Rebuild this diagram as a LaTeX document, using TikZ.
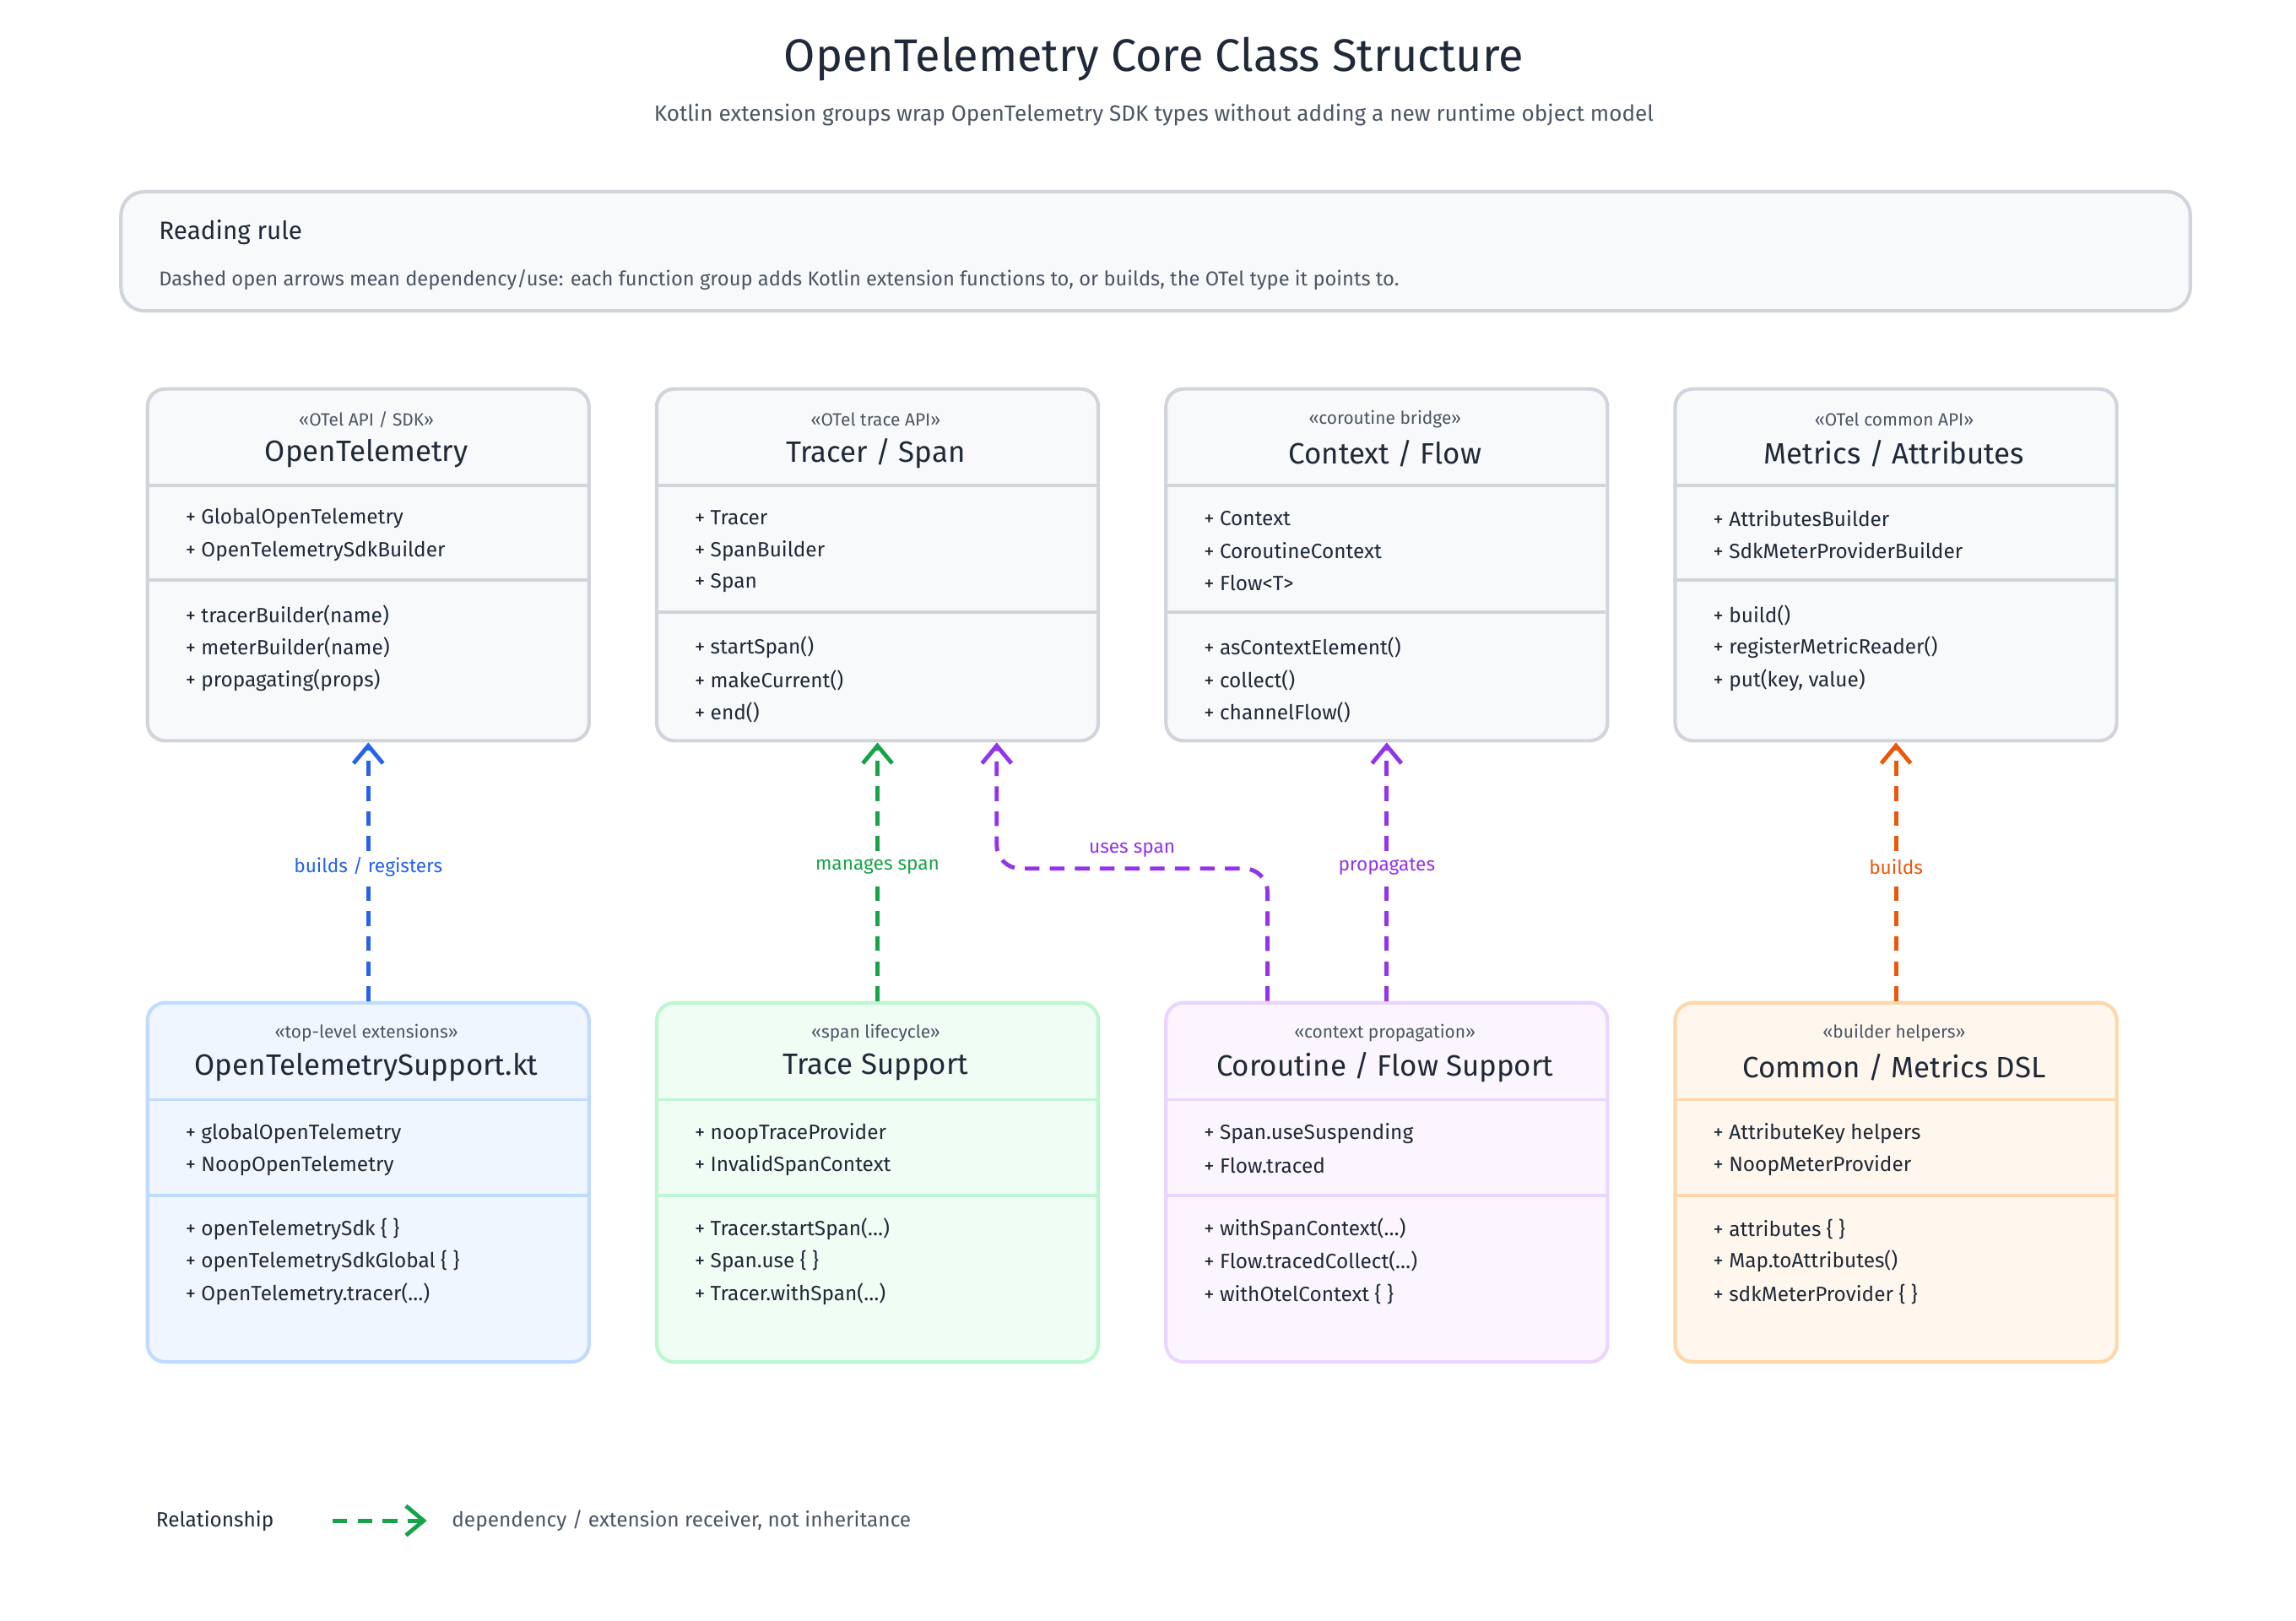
\documentclass[tikz,border=0pt]{standalone}
\usepackage{fontspec}
\setmainfont{Fira Sans}
\usetikzlibrary{arrows.meta,calc}
\definecolor{ink}{HTML}{1F2937}
\definecolor{muted}{HTML}{4B5563}
\definecolor{gborder}{HTML}{D1D5DB}
\definecolor{gfill}{HTML}{F8F9FB}
\definecolor{bfill}{HTML}{EFF6FF}\definecolor{bdraw}{HTML}{BFDBFE}\definecolor{barr}{HTML}{2563EB}
\definecolor{grfill}{HTML}{F0FDF4}\definecolor{grdraw}{HTML}{BBF7D0}\definecolor{grarr}{HTML}{16A34A}
\definecolor{pfill}{HTML}{FAF5FF}\definecolor{pdraw}{HTML}{E9D5FF}\definecolor{parr}{HTML}{9333EA}
\definecolor{ofill}{HTML}{FFF7ED}\definecolor{odraw}{HTML}{FED7AA}\definecolor{oarr}{HTML}{EA580C}
\tikzset{
 box/.style={draw=#1,line width=1.2pt,rounded corners=6pt,anchor=north west,minimum width=150pt,inner sep=0},
 stereo/.style={font=\fontsize{6}{7}\selectfont,text=muted},
 cname/.style={font=\fontsize{10}{12}\selectfont,text=ink},
 item/.style={font=\fontsize{7}{8}\selectfont,text=ink,anchor=west},
 dep/.style={draw=#1,line width=1.4pt,dash pattern=on 5pt off 3.5pt,-{Straight Barb[length=6pt,width=10pt,line width=1.4pt]}},
 lab/.style={font=\fontsize{6.5}{8}\selectfont,text=#1,fill=white,inner sep=1pt},
}
\newcommand\cbox[9]{%
 \node[box=#6,fill=#5,minimum height=#4*0.5pt] (#1) at (#2,#3) {};
 \draw[#6,line width=1.1pt] (#2,#3+67) -- ++(300,0);
 \draw[#6,line width=1.1pt] (#2,#3+#9) -- ++(300,0);
 \node[stereo] at (#2+150,#3+22) {#7};
 \node[cname] at (#2+150,#3+45) {#8};
}
\newcommand\rows[3]{%
 \foreach \t [count=\i from 0] in {#3} \node[item] at (#1+20,#2+22*\i) {+ \t};
}
\begin{document}
\begin{tikzpicture}[x=0.5pt,y=-0.5pt]
\useasboundingbox (0,0) rectangle (1560,1101);
\fill[white] (0,0) rectangle (1560,1101);
\node[font=\fontsize{15.5}{18}\selectfont,text=ink] (title) at (784,40) {OpenTelemetry Core Class Structure};
\node[font=\fontsize{7.5}{9}\selectfont,text=muted] (sub) at (784,78) {Kotlin extension groups wrap OpenTelemetry SDK types without adding a new runtime object model};
\node[draw=gborder,fill=gfill,line width=1.2pt,rounded corners=8pt,anchor=north west,minimum width=703pt,minimum height=40.5pt] (rule) at (81,129) {};
\node[font=\fontsize{8.5}{10}\selectfont,text=ink,anchor=west] at (101,158) {Reading rule};
\node[font=\fontsize{6.8}{8}\selectfont,text=muted,anchor=west] at (101,190) {Dashed open arrows mean dependency/use: each function group adds Kotlin extension functions to, or builds, the OTel type it points to.};
\cbox{ot}{99}{263}{239}{gfill}{gborder}{<<OTel API / SDK>>}{OpenTelemetry}{131}
\rows{99}{352}{GlobalOpenTelemetry,OpenTelemetrySdkBuilder}
\rows{99}{418}{tracerBuilder(name),meterBuilder(name),propagating(props)}
\cbox{ts}{445}{263}{239}{gfill}{gborder}{<<OTel trace API>>}{Tracer / Span}{153}
\rows{445}{352}{Tracer,SpanBuilder,Span}
\rows{445}{440}{startSpan(),makeCurrent(),end()}
\cbox{cf}{791}{263}{239}{gfill}{gborder}{<<coroutine bridge>>}{Context / Flow}{153}
\rows{791}{352}{Context,CoroutineContext,Flow<T>}
\rows{791}{440}{asContextElement(),collect(),channelFlow()}
\cbox{ma}{1137}{263}{239}{gfill}{gborder}{<<OTel common API>>}{Metrics / Attributes}{131}
\rows{1137}{352}{AttributesBuilder,SdkMeterProviderBuilder}
\rows{1137}{418}{build(),registerMetricReader(),{put(key, value)}}
\cbox{ots}{99}{680}{244}{bfill}{bdraw}{<<top-level extensions>>}{OpenTelemetrySupport.kt}{132}
\rows{99}{770}{globalOpenTelemetry,NoopOpenTelemetry}
\rows{99}{835}{openTelemetrySdk \{ \},openTelemetrySdkGlobal \{ \},OpenTelemetry.tracer(\ldots)}
\cbox{trs}{445}{680}{244}{grfill}{grdraw}{<<span lifecycle>>}{Trace Support}{132}
\rows{445}{770}{noopTraceProvider,InvalidSpanContext}
\rows{445}{835}{Tracer.startSpan(\ldots),Span.use \{ \},Tracer.withSpan(\ldots)}
\cbox{cfs}{791}{680}{244}{pfill}{pdraw}{<<context propagation>>}{Coroutine / Flow Support}{132}
\rows{791}{770}{Span.useSuspending,Flow.traced}
\rows{791}{835}{withSpanContext(\ldots),Flow.tracedCollect(\ldots),withOtelContext \{ \}}
\cbox{cms}{1137}{680}{244}{ofill}{odraw}{<<builder helpers>>}{Common / Metrics DSL}{132}
\rows{1137}{770}{AttributeKey helpers,NoopMeterProvider}
\rows{1137}{835}{attributes \{ \},Map.toAttributes(),sdkMeterProvider \{ \}}
\draw[dep=barr] (ots.north) -- node[lab=barr,pos=0.52]{builds / registers} (ot.south);
\draw[dep=grarr] (trs.north) -- node[lab=grarr,pos=0.52]{manages span} (ts.south);
\draw[dep=parr,rounded corners=8pt] ($(cfs.north)+(-81,0)$) -- ++(0,-90) -| node[lab=parr,pos=0.25,above=2pt,fill=none]{uses span} ($(ts.south)+(81,0)$);
\draw[dep=parr] (cfs.north) -- node[lab=parr,pos=0.52]{propagates} (cf.south);
\draw[dep=oarr] (cms.north) -- node[lab=oarr,pos=0.52]{builds} (ma.south);
\node[font=\fontsize{7}{8}\selectfont,text=ink,anchor=west] (leg) at (99,1033) {Relationship};
\coordinate (la) at (226,1033); \coordinate (lb) at (290,1033);
\draw[dep=grarr] (la) -- (lb);
\node[font=\fontsize{7}{8}\selectfont,text=muted,anchor=west] at (300,1033) {dependency / extension receiver, not inheritance};
\end{tikzpicture}
\end{document}
